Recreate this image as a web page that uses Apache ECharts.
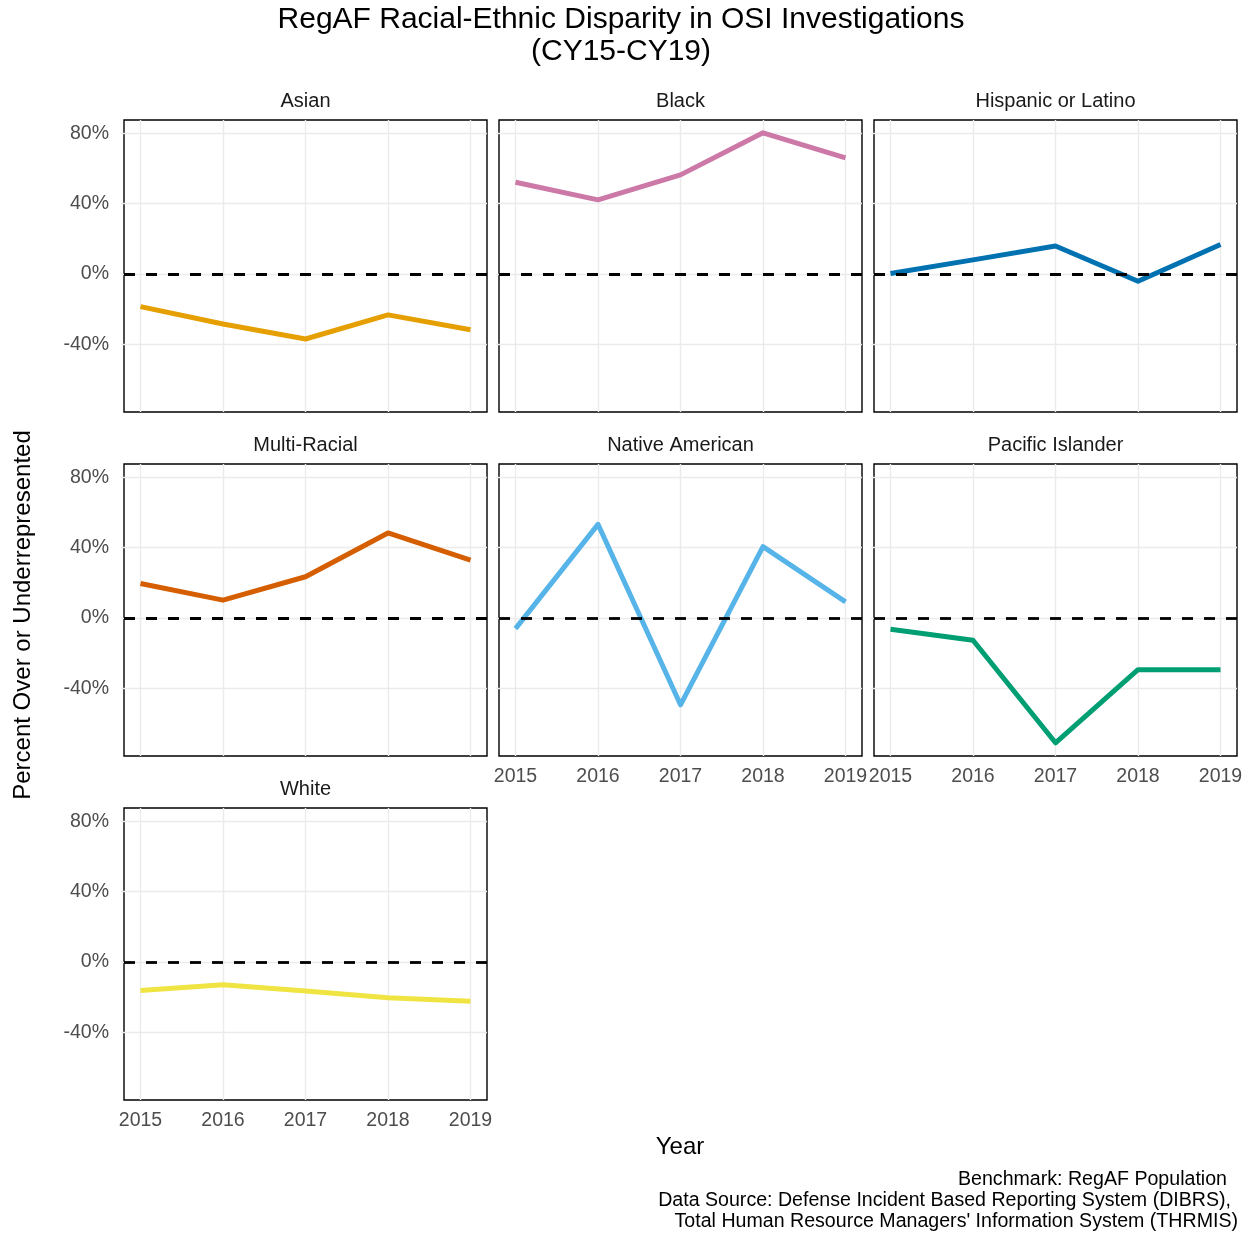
<!DOCTYPE html>
<html><head><meta charset="utf-8">
<script src="https://cdn.jsdelivr.net/npm/echarts@6/dist/echarts.min.js"></script>
<style>html,body{margin:0;padding:0;background:#fff}#c{width:1251px;height:1234px}</style>
</head><body><div id="c"></div>
<script>
const years = [2015, 2016, 2017, 2018, 2019];
const groups = ['Asian', 'Black', 'Hispanic or Latino', 'Multi-Racial', 'Native American', 'Pacific Islander', 'White'];
const asian = [-18.6, -28.5, -37.0, -23.3, -31.7];
const black = [52.1, 42.1, 56.3, 80.2, 66.0];
const hispanic = [0.2, 8.0, 15.9, -4.2, 16.7];
const multiRacial = [19.6, 10.1, 23.4, 48.3, 32.9];
const nativeAmerican = [-6.1, 53.2, -49.4, 40.5, 9.1];
const pacificIslander = [-6.4, -12.7, -71.0, -29.4, -29.4];
const white = [-16.2, -13.0, -16.6, -20.4, -22.3];
const yTicks = [-40, 0, 40, 80];
const colors = ['#E69F00', '#CC79A7', '#0072B2', '#D55E00', '#56B4E9', '#009E73', '#F0E442'];

const seriesValues = [asian, black, hispanic, multiRacial, nativeAmerican, pacificIslander, white];
const FONT = 'Liberation Sans, Arial, sans-serif';
const lefts = [124, 499, 874];
const tops = [120, 464, 808];
const W = 363, H = 292;
const xLabelPanels = [4, 5, 6];

const grid = [], xAxis = [], yAxis = [], series = [], graphic = [];
groups.forEach((g, i) => {
  const col = i % 3, row = Math.floor(i / 3);
  grid.push({left: lefts[col], top: tops[row], width: W, height: H, show: true,
    borderColor: '#000', borderWidth: 1.4, backgroundColor: 'transparent', containLabel: false});
  xAxis.push({type: 'value', gridIndex: i, min: 2014.8, max: 2019.2,
    axisLine: {show: false},
    axisTick: {show: true, customValues: years, length: 3, lineStyle: {color: '#EBEBEB', width: 1.4}},
    axisLabel: {show: xLabelPanels.includes(i), customValues: years, formatter: v => String(v),
      color: '#4D4D4D', fontSize: 19.5, fontFamily: FONT, margin: 11},
    splitLine: {show: true, lineStyle: {color: '#EBEBEB', width: 1.4}}
  });
  yAxis.push({type: 'value', gridIndex: i, min: -78.5, max: 87.5,
    axisLine: {show: false},
    axisTick: {show: true, customValues: yTicks, length: 3, lineStyle: {color: '#EBEBEB', width: 1.4}},
    axisLabel: {show: col === 0, customValues: yTicks, formatter: v => v + '%',
      color: '#4D4D4D', fontSize: 19.5, fontFamily: FONT, margin: 15},
    splitLine: {show: true, lineStyle: {color: '#EBEBEB', width: 1.4}}
  });
  series.push({type: 'line', name: g, xAxisIndex: i, yAxisIndex: i,
    data: years.map((y, k) => [y, seriesValues[i][k]]),
    showSymbol: false, symbol: 'none', silent: true, animation: false,
    lineStyle: {color: colors[i], width: 5, join: 'round', cap: 'butt'},
    markLine: {silent: true, symbol: 'none', animation: false, z: 5,
      label: {show: false},
      lineStyle: {color: '#000', type: [11, 11], width: 2.8},
      data: [{yAxis: 0}]}
  });
  graphic.push({type: 'text', x: lefts[col] + W / 2, y: tops[row] - 19,
    style: {text: g, textAlign: 'center', textVerticalAlign: 'middle', font: '20px ' + FONT, fill: '#1A1A1A'}});
});

graphic.push({type: 'text', x: 621, y: 4,
  style: {text: 'RegAF Racial-Ethnic Disparity in OSI Investigations\n(CY15-CY19)', textAlign: 'center',
    textVerticalAlign: 'top', font: '30px ' + FONT, lineHeight: 32, fill: '#000'}});
graphic.push({type: 'text', x: 23, y: 615, rotation: Math.PI / 2,
  style: {text: 'Percent Over or Underrepresented', textAlign: 'center', textVerticalAlign: 'middle',
    font: '24px ' + FONT, fill: '#000'}});
graphic.push({type: 'text', x: 680, y: 1147,
  style: {text: 'Year', textAlign: 'center', textVerticalAlign: 'middle', font: '24px ' + FONT, fill: '#000'}});
const captionLines = ['Benchmark: RegAF Population', 'Data Source: Defense Incident Based Reporting System (DIBRS),', "Total Human Resource Managers' Information System (THRMIS)"];
const captionRight = [1227, 1231, 1238];
captionLines.forEach((t, k) => {
  graphic.push({type: 'text', x: captionRight[k], y: 1180 + k * 21,
    style: {text: t, textAlign: 'right', textVerticalAlign: 'middle', font: '19.6px ' + FONT, fill: '#000'}});
});

const chart = echarts.init(document.getElementById('c'), null, {renderer: 'canvas'});
chart.setOption({animation: false, backgroundColor: '#fff', grid, xAxis, yAxis, series, graphic});
</script></body></html>
